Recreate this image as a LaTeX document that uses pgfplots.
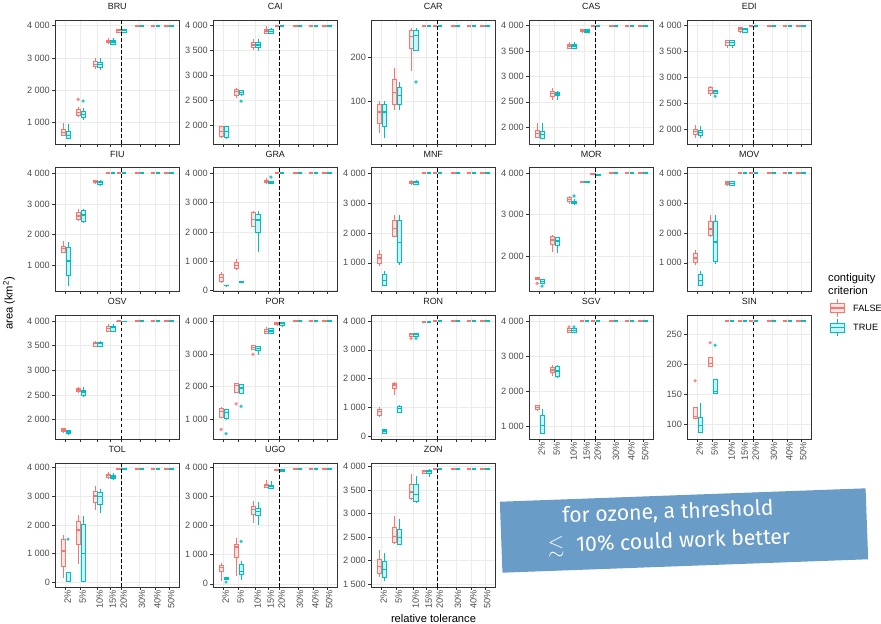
\documentclass[border=0pt]{standalone}
\usepackage{fontspec}
\setmainfont{Liberation Sans}
\newfontfamily\annofont{Fira Sans}
\usepackage{amssymb}
\usepackage{pgfplots}
\pgfplotsset{compat=1.18}

\definecolor{cF}{HTML}{F8766D}
\definecolor{cT}{HTML}{00BFC4}
\definecolor{gtick}{HTML}{4D4D4D}
\definecolor{gborder}{HTML}{333333}
\definecolor{ggrid}{HTML}{EBEBEB}
\definecolor{annoblue}{HTML}{6A9CC8}

\pgfplotsset{
  boxF/.style={color=cF, fill=cF!20, line width=0.6bp, mark=none},
  boxT/.style={color=cT, fill=cT!20, line width=0.6bp, mark=none},
  whF/.style={color=cF, line width=0.6bp, mark=none, unbounded coords=jump},
  whT/.style={color=cT, line width=0.6bp, mark=none, unbounded coords=jump},
  medF/.style={color=cF, line width=1.3bp, mark=none},
  medT/.style={color=cT, line width=1.3bp, mark=none},
  flF/.style={color=cF, line width=1.9bp, mark=none},
  flT/.style={color=cT, line width=1.9bp, mark=none},
  olF/.style={color=cF, only marks, mark=*, mark size=1.8bp, mark options={draw opacity=0, fill=cF, fill opacity=0.85}},
  olT/.style={color=cT, only marks, mark=*, mark size=1.8bp, mark options={draw opacity=0, fill=cT, fill opacity=0.85}},
  panel/.style={
    scale only axis, width=124.5bp, height=124bp, anchor=north west,
    xmin=0.834, xmax=7.651,
    xtick={1.414,2.236,3.162,3.873,4.472,5.477,6.325,7.071},
    xticklabels={2\%,5\%,10\%,15\%,20\%,30\%,40\%,50\%},
    tick pos=left, tick align=outside, major tick length=2.75bp,
    tick style={draw=gborder, line width=0.55bp},
    axis line style={draw=gborder, line width=0.8bp},
    grid=major, major grid style={draw=ggrid, line width=0.6bp},
    scaled y ticks=false,
    /pgf/number format/.cd, assume math mode=true, fixed, precision=0,
      1000 sep={\hspace{0.25em}}, /pgfplots/.cd,
    tick label style={font=\fontsize{9.2}{10}\selectfont, text=gtick},
    yticklabel style={inner sep=0pt, xshift=-2.2bp},
    xticklabel style={rotate=90, anchor=east, inner sep=0pt, yshift=-2.2bp},
    title style={font=\fontsize{9}{10}\selectfont, text=black!90,
      at={(0.5,1)}, anchor=base, yshift=4.5bp},
  },
  nox/.style={xticklabels={}},
}

% one box: group (F/T), centre, lower whisker, Q1, median, Q3, upper whisker
\newcommand{\bx}[7]{%
  \pgfmathsetmacro{\xl}{#2-0.1215}\pgfmathsetmacro{\xr}{#2+0.1215}%
  \addplot[box#1] coordinates {(\xl,#4) (\xr,#4) (\xr,#6) (\xl,#6)} --cycle;
  \addplot[wh#1] coordinates {(#2,#3) (#2,#4) (#2,nan) (#2,#6) (#2,#7)};
  \addplot[med#1] coordinates {(\xl,#5) (\xr,#5)};
}
% degenerate box: every run gives the same area
\newcommand{\fl}[3]{%
  \pgfmathsetmacro{\xl}{#2-0.1215}\pgfmathsetmacro{\xr}{#2+0.1215}%
  \addplot[fl#1] coordinates {(\xl,#3) (\xr,#3)};
}
% outlying runs
\newcommand{\ol}[2]{\addplot[ol#1] coordinates {#2};}
% 20 % tolerance reference line
\newcommand{\thr}{\draw[black, line width=0.9bp, dash pattern=on 3.6bp off 2.4bp] ({axis cs:4.472,0}|-{rel axis cs:0,0}) -- ({axis cs:4.472,0}|-{rel axis cs:0,1});}

\begin{document}
\begin{tikzpicture}
\useasboundingbox (0,0) rectangle (881bp,-624bp);

% ---------------- row 1 ----------------
\begin{axis}[panel, nox, at={(55bp,-20bp)}, title=BRU, ymin=340, ymax=4176, ytick={1000,2000,3000,4000}]
\bx{F}{1.279}{600}{620}{690}{790}{980}
\bx{T}{1.549}{515}{530}{610}{720}{960}
\bx{F}{2.101}{1190}{1240}{1320}{1410}{1480}
\bx{T}{2.371}{1080}{1180}{1260}{1340}{1440}
\ol{F}{(2.101,1720)}\ol{T}{(2.371,1670)}
\bx{F}{3.027}{2650}{2730}{2805}{2885}{3000}
\bx{T}{3.297}{2630}{2720}{2790}{2880}{3000}
\bx{F}{3.738}{3460}{3475}{3515}{3555}{3610}
\bx{T}{4.008}{3420}{3435}{3495}{3555}{3610}
\bx{F}{4.337}{3790}{3800}{3850}{3895}{3900}
\bx{T}{4.607}{3790}{3800}{3850}{3895}{3900}
\fl{F}{5.342}{4000}\fl{T}{5.612}{4000}
\fl{F}{6.190}{4000}\fl{T}{6.460}{4000}
\fl{F}{6.936}{4000}\fl{T}{7.206}{4000}
\thr
\end{axis}

\begin{axis}[panel, nox, at={(213bp,-20bp)}, title=CAI, ymin=1630, ymax=4113, ytick={2000,2500,3000,3500,4000}]
\bx{F}{1.279}{1760}{1780}{1880}{1980}{2000}
\bx{T}{1.549}{1740}{1760}{1880}{1980}{2000}
\bx{F}{2.101}{2560}{2613}{2680}{2727}{2760}
\bx{T}{2.371}{2600}{2628}{2660}{2700}{2720}
\ol{T}{(2.371,2487)}
\bx{F}{3.027}{3513}{3567}{3614}{3660}{3727}
\bx{T}{3.297}{3500}{3567}{3614}{3660}{3727}
\bx{F}{3.738}{3840}{3848}{3893}{3934}{3990}
\bx{T}{4.008}{3830}{3848}{3880}{3934}{3960}
\fl{F}{4.337}{4000}\fl{T}{4.607}{4000}
\fl{F}{5.342}{4000}\fl{T}{5.612}{4000}
\fl{F}{6.190}{4000}\fl{T}{6.460}{4000}
\fl{F}{6.936}{4000}\fl{T}{7.206}{4000}
\thr
\end{axis}

\begin{axis}[panel, nox, at={(371bp,-20bp)}, title=CAR, ymin=4, ymax=284, ytick={100,200}]
\bx{F}{1.279}{29}{51}{76}{94}{100}
\bx{T}{1.549}{17}{45}{76}{94}{100}
\bx{F}{2.101}{80}{94}{120}{149}{176}
\bx{T}{2.371}{81}{94}{114}{132}{143}
\bx{F}{3.027}{168}{220}{246}{260}{265}
\bx{T}{3.297}{214}{216}{249}{260}{265}
\ol{T}{(3.297,144)}
\fl{F}{3.738}{271}\fl{T}{4.008}{271}
\fl{F}{4.337}{271}\fl{T}{4.607}{271}
\fl{F}{5.342}{271}\fl{T}{5.612}{271}
\fl{F}{6.190}{271}\fl{T}{6.460}{271}
\fl{F}{6.936}{271}\fl{T}{7.206}{271}
\thr
\end{axis}

\begin{axis}[panel, nox, at={(529bp,-20bp)}, title=CAS, ymin=1669, ymax=4111, ytick={2000,2500,3000,3500,4000}]
\bx{F}{1.279}{1790}{1800}{1870}{1935}{2080}
\bx{T}{1.549}{1780}{1790}{1850}{1920}{2080}
\bx{F}{2.101}{2543}{2614}{2661}{2713}{2780}
\bx{T}{2.371}{2543}{2620}{2655}{2690}{2720}
\bx{F}{3.027}{3540}{3552}{3600}{3638}{3670}
\bx{T}{3.297}{3540}{3552}{3600}{3638}{3670}
\bx{F}{3.738}{3870}{3880}{3905}{3929}{3940}
\bx{T}{4.008}{3860}{3870}{3895}{3920}{3930}
\fl{F}{4.337}{4000}\fl{T}{4.607}{4000}
\fl{F}{5.342}{4000}\fl{T}{5.612}{4000}
\fl{F}{6.190}{4000}\fl{T}{6.460}{4000}
\fl{F}{6.936}{4000}\fl{T}{7.206}{4000}
\thr
\end{axis}

\begin{axis}[panel, nox, at={(687bp,-20bp)}, title=EDI, ymin=1711, ymax=4109, ytick={2000,2500,3000,3500,4000}]
\bx{F}{1.279}{1820}{1893}{1950}{1990}{2080}
\bx{T}{1.549}{1820}{1880}{1930}{1970}{2060}
\bx{F}{2.101}{2640}{2700}{2745}{2805}{2830}
\bx{T}{2.371}{2690}{2700}{2730}{2750}{2760}
\ol{T}{(2.371,2636)}
\bx{F}{3.027}{3560}{3625}{3670}{3710}{3710}
\bx{T}{3.297}{3560}{3625}{3670}{3710}{3710}
\bx{F}{3.738}{3880}{3884}{3935}{3961}{3975}
\bx{T}{4.008}{3860}{3880}{3920}{3940}{3950}
\fl{F}{4.337}{4000}\fl{T}{4.607}{4000}
\fl{F}{5.342}{4000}\fl{T}{5.612}{4000}
\fl{F}{6.190}{4000}\fl{T}{6.460}{4000}
\fl{F}{6.936}{4000}\fl{T}{7.206}{4000}
\thr
\end{axis}

% ---------------- row 2 ----------------
\begin{axis}[panel, nox, at={(55bp,-167.7bp)}, title=FIU, ymin=142, ymax=4184, ytick={1000,2000,3000,4000}]
\bx{F}{1.279}{1400}{1434}{1545}{1630}{1800}
\bx{T}{1.549}{326}{675}{1140}{1578}{1760}
\bx{F}{2.101}{2450}{2500}{2608}{2719}{2840}
\bx{T}{2.371}{2380}{2450}{2640}{2780}{2840}
\bx{F}{3.027}{3690}{3697}{3730}{3761}{3770}
\bx{T}{3.297}{3590}{3650}{3720}{3750}{3780}
\fl{F}{3.738}{4000}\fl{T}{4.008}{4000}
\fl{F}{4.337}{4000}\fl{T}{4.607}{4000}
\fl{F}{5.342}{4000}\fl{T}{5.612}{4000}
\fl{F}{6.190}{4000}\fl{T}{6.460}{4000}
\fl{F}{6.936}{4000}\fl{T}{7.206}{4000}
\thr
\end{axis}

\begin{axis}[panel, nox, at={(213bp,-167.7bp)}, title=GRA, ymin=-32, ymax=4192, ytick={0,1000,2000,3000,4000}]
\bx{F}{1.279}{276}{331}{446}{558}{636}
\bx{T}{1.549}{160}{170}{185}{200}{210}
\bx{F}{2.101}{704}{752}{864}{976}{1092}
\bx{T}{2.371}{280}{290}{300}{310}{320}
\bx{F}{3.027}{2210}{2210}{2438}{2685}{2720}
\bx{T}{3.297}{1316}{2000}{2415}{2600}{2717}
\bx{F}{3.738}{3660}{3683}{3728}{3773}{3850}
\bx{T}{4.008}{3660}{3660}{3700}{3740}{3740}
\ol{T}{(4.008,3874)}
\fl{F}{4.337}{4000}\fl{T}{4.607}{4000}
\fl{F}{5.342}{4000}\fl{T}{5.612}{4000}
\fl{F}{6.190}{4000}\fl{T}{6.460}{4000}
\fl{F}{6.936}{4000}\fl{T}{7.206}{4000}
\thr
\end{axis}

\begin{axis}[panel, nox, at={(371bp,-167.7bp)}, title=MNF, ymin=30, ymax=4190, ytick={1000,2000,3000,4000}]
\bx{F}{1.279}{908}{990}{1156}{1282}{1418}
\bx{T}{1.549}{230}{240}{398}{602}{714}
\bx{F}{2.101}{1850}{1894}{2156}{2414}{2608}
\bx{T}{2.371}{942}{1020}{1680}{2414}{2608}
\bx{F}{3.027}{3620}{3653}{3700}{3741}{3770}
\bx{T}{3.297}{3600}{3640}{3700}{3741}{3780}
\fl{F}{3.738}{4000}\fl{T}{4.008}{4000}
\fl{F}{4.337}{4000}\fl{T}{4.607}{4000}
\fl{F}{5.342}{4000}\fl{T}{5.612}{4000}
\fl{F}{6.190}{4000}\fl{T}{6.460}{4000}
\fl{F}{6.936}{4000}\fl{T}{7.206}{4000}
\thr
\end{axis}

\begin{axis}[panel, nox, at={(529bp,-167.7bp)}, title=MOR, ymin=1138, ymax=4136, ytick={2000,3000,4000}]
\bx{F}{1.279}{1428}{1428}{1460}{1484}{1484}
\bx{T}{1.549}{1346}{1346}{1387}{1428}{1428}
\ol{F}{(1.279,1339)}\ol{T}{(1.549,1274)}
\bx{F}{2.101}{2110}{2282}{2387}{2469}{2500}
\bx{T}{2.371}{2085}{2266}{2363}{2444}{2470}
\bx{F}{3.027}{3250}{3330}{3370}{3412}{3450}
\bx{T}{3.297}{3250}{3270}{3306}{3330}{3380}
\ol{T}{(3.297,3451)}
\bx{F}{3.738}{3780}{3780}{3798}{3810}{3810}
\bx{T}{4.008}{3780}{3780}{3790}{3800}{3800}
\bx{F}{4.337}{3975}{3980}{3990}{4000}{4000}
\bx{T}{4.607}{3955}{3960}{3975}{3985}{3990}
\fl{F}{5.342}{4000}\fl{T}{5.612}{4000}
\fl{F}{6.190}{4000}\fl{T}{6.460}{4000}
\fl{F}{6.936}{4000}\fl{T}{7.206}{4000}
\thr
\end{axis}

\begin{axis}[panel, nox, at={(687bp,-167.7bp)}, title=MOV, ymin=30, ymax=4190, ytick={1000,2000,3000,4000}]
\bx{F}{1.279}{930}{1010}{1160}{1330}{1430}
\bx{T}{1.549}{230}{250}{400}{600}{720}
\bx{F}{2.101}{1880}{1920}{2130}{2400}{2600}
\bx{T}{2.371}{950}{1040}{1700}{2400}{2600}
\bx{F}{3.027}{3600}{3620}{3680}{3740}{3760}
\bx{T}{3.297}{3570}{3600}{3660}{3720}{3760}
\fl{F}{3.738}{4000}\fl{T}{4.008}{4000}
\fl{F}{4.337}{4000}\fl{T}{4.607}{4000}
\fl{F}{5.342}{4000}\fl{T}{5.612}{4000}
\fl{F}{6.190}{4000}\fl{T}{6.460}{4000}
\fl{F}{6.936}{4000}\fl{T}{7.206}{4000}
\thr
\end{axis}

% ---------------- row 3 ----------------
\begin{axis}[panel, nox, at={(55bp,-315.3bp)}, title=OSV, ymin=1599, ymax=4114, ytick={2000,2500,3000,3500,4000}]
\bx{F}{1.279}{1750}{1754}{1785}{1814}{1820}
\bx{T}{1.549}{1710}{1713}{1750}{1786}{1790}
\bx{F}{2.101}{2560}{2566}{2600}{2635}{2650}
\bx{T}{2.371}{2450}{2500}{2560}{2586}{2670}
\bx{F}{3.027}{3480}{3489}{3540}{3576}{3600}
\bx{T}{3.297}{3480}{3489}{3540}{3576}{3600}
\bx{F}{3.738}{3790}{3798}{3850}{3893}{3930}
\bx{T}{4.008}{3790}{3798}{3860}{3893}{3930}
\bx{F}{4.337}{3990}{3990}{4000}{4000}{4000}
\bx{T}{4.607}{3985}{3985}{3995}{4000}{4000}
\fl{F}{5.342}{4000}\fl{T}{5.612}{4000}
\fl{F}{6.190}{4000}\fl{T}{6.460}{4000}
\fl{F}{6.936}{4000}\fl{T}{7.206}{4000}
\thr
\end{axis}

\begin{axis}[panel, nox, at={(213bp,-315.3bp)}, title=POR, ymin=394, ymax=4182, ytick={1000,2000,3000,4000}]
\bx{F}{1.279}{1060}{1081}{1251}{1354}{1380}
\bx{T}{1.549}{1000}{1021}{1203}{1303}{1320}
\ol{F}{(1.279,697)}\ol{T}{(1.549,567)}
\bx{F}{2.101}{1800}{1827}{2030}{2091}{2100}
\bx{T}{2.371}{1780}{1809}{1960}{2060}{2080}
\ol{F}{(2.101,1476)}\ol{T}{(2.371,1403)}
\bx{F}{3.027}{3120}{3142}{3200}{3252}{3270}
\bx{T}{3.297}{2970}{3100}{3170}{3222}{3240}
\ol{F}{(3.027,2990)}
\bx{F}{3.738}{3600}{3628}{3697}{3758}{3818}
\bx{T}{4.008}{3600}{3628}{3700}{3788}{3800}
\bx{F}{4.337}{3880}{3900}{3930}{3960}{3980}
\bx{T}{4.607}{3850}{3870}{3940}{3960}{3970}
\fl{F}{5.342}{4000}\fl{T}{5.612}{4000}
\fl{F}{6.190}{4000}\fl{T}{6.460}{4000}
\fl{F}{6.936}{4000}\fl{T}{7.206}{4000}
\thr
\end{axis}

\begin{axis}[panel, nox, at={(371bp,-315.3bp)}, title=RON, ymin=-110, ymax=4200, ytick={0,1000,2000,3000,4000}]
\bx{F}{1.279}{649}{730}{846}{927}{1020}
\bx{T}{1.549}{80}{93}{174}{232}{250}
\bx{F}{2.101}{1426}{1657}{1773}{1854}{1889}
\bx{T}{2.371}{788}{846}{962}{1020}{1078}
\bx{F}{3.027}{3440}{3477}{3535}{3570}{3590}
\bx{T}{3.297}{3440}{3477}{3535}{3570}{3590}
\ol{F}{(3.027,3396)}\ol{T}{(3.297,3396)}
\fl{F}{3.738}{3965}\fl{T}{4.008}{3965}
\fl{F}{4.337}{4000}\fl{T}{4.607}{4000}
\fl{F}{5.342}{4000}\fl{T}{5.612}{4000}
\fl{F}{6.190}{4000}\fl{T}{6.460}{4000}
\fl{F}{6.936}{4000}\fl{T}{7.206}{4000}
\thr
\end{axis}

\begin{axis}[panel, at={(529bp,-315.3bp)}, title=SGV, ymin=622, ymax=4169, ytick={1000,2000,3000,4000}]
\bx{F}{1.279}{1460}{1473}{1539}{1587}{1600}
\bx{T}{1.549}{792}{792}{1019}{1303}{1492}
\bx{F}{2.101}{2438}{2532}{2608}{2674}{2750}
\bx{T}{2.371}{2372}{2438}{2580}{2703}{2750}
\bx{F}{3.027}{3680}{3696}{3743}{3790}{3800}
\bx{T}{3.297}{3680}{3696}{3743}{3790}{3800}
\ol{F}{(3.027,3838)}\ol{T}{(3.297,3838)}
\fl{F}{3.738}{4000}\fl{T}{4.008}{4000}
\fl{F}{4.337}{4000}\fl{T}{4.607}{4000}
\fl{F}{5.342}{4000}\fl{T}{5.612}{4000}
\fl{F}{6.190}{4000}\fl{T}{6.460}{4000}
\fl{F}{6.936}{4000}\fl{T}{7.206}{4000}
\thr
\end{axis}

\begin{axis}[panel, at={(687bp,-315.3bp)}, title=SIN, ymin=74.5, ymax=282, ytick={100,150,200,250}]
\bx{F}{1.279}{110}{110}{113}{128}{128}
\bx{T}{1.549}{85.6}{87}{98}{112}{135}
\ol{F}{(1.279,172.5)}
\bx{F}{2.101}{197}{197}{201}{212}{212}
\bx{T}{2.371}{152}{152}{155}{175}{175}
\ol{F}{(2.101,236)}\ol{T}{(2.371,232)}
\fl{F}{3.027}{272}\fl{T}{3.297}{272}
\fl{F}{3.738}{272}\fl{T}{4.008}{272}
\fl{F}{4.337}{272}\fl{T}{4.607}{272}
\fl{F}{5.342}{272}\fl{T}{5.612}{272}
\fl{F}{6.190}{272}\fl{T}{6.460}{272}
\fl{F}{6.936}{272}\fl{T}{7.206}{272}
\thr
\end{axis}

% ---------------- row 4 ----------------
\begin{axis}[panel, at={(55bp,-463bp)}, title=TOL, ymin=-152, ymax=4145, ytick={0,1000,2000,3000,4000}]
\bx{F}{1.279}{160}{567}{1100}{1507}{1646}
\bx{T}{1.549}{45}{45}{50}{370}{370}
\ol{T}{(1.549,1507)}
\bx{F}{2.101}{661}{1333}{1820}{2133}{2342}
\bx{T}{2.371}{45}{45}{1009}{2029}{2300}
\bx{F}{3.027}{2500}{2770}{3003}{3177}{3339}
\bx{T}{3.297}{2420}{2730}{2980}{3130}{3240}
\bx{F}{3.738}{3600}{3654}{3700}{3758}{3830}
\bx{T}{4.008}{3560}{3600}{3660}{3720}{3800}
\bx{F}{4.337}{3930}{3935}{3945}{3950}{3950}
\bx{T}{4.607}{3930}{3935}{3945}{3950}{3950}
\fl{F}{5.342}{3945}\fl{T}{5.612}{3945}
\fl{F}{6.190}{3945}\fl{T}{6.460}{3945}
\fl{F}{6.936}{3945}\fl{T}{7.206}{3945}
\thr
\end{axis}

\begin{axis}[panel, at={(213bp,-463bp)}, title=UGO, ymin=-110, ymax=4150, ytick={0,1000,2000,3000,4000}]
\bx{F}{1.279}{103}{423}{561}{630}{712}
\bx{T}{1.549}{172}{172}{200}{230}{230}
\ol{T}{(1.549,58)}
\bx{F}{2.101}{252}{918}{1262}{1365}{1572}
\bx{T}{2.371}{138}{333}{424}{677}{770}
\ol{T}{(2.371,1455)}
\bx{F}{3.027}{2088}{2398}{2546}{2659}{2855}
\bx{T}{3.297}{2030}{2350}{2490}{2602}{2820}
\bx{F}{3.738}{3280}{3314}{3372}{3430}{3560}
\bx{T}{4.008}{3250}{3290}{3360}{3400}{3530}
\bx{F}{4.337}{3890}{3898}{3910}{3930}{3946}
\bx{T}{4.607}{3852}{3860}{3900}{3930}{3946}
\fl{F}{5.342}{3950}\fl{T}{5.612}{3950}
\fl{F}{6.190}{3950}\fl{T}{6.460}{3950}
\fl{F}{6.936}{3950}\fl{T}{7.206}{3950}
\thr
\end{axis}

\begin{axis}[panel, at={(371bp,-463bp)}, title=ZON, ymin=1439, ymax=4078, ytick={1500,2000,2500,3000,3500,4000}]
\bx{F}{1.279}{1650}{1721}{1875}{2038}{2230}
\bx{T}{1.549}{1559}{1652}{1806}{1981}{2160}
\bx{F}{2.101}{2380}{2382}{2508}{2719}{2945}
\bx{T}{2.371}{2340}{2348}{2494}{2671}{2890}
\bx{F}{3.027}{3300}{3331}{3458}{3635}{3845}
\bx{T}{3.297}{3240}{3255}{3403}{3615}{3810}
\bx{F}{3.738}{3859}{3859}{3900}{3930}{3930}
\bx{T}{4.008}{3790}{3859}{3900}{3930}{3945}
\fl{F}{4.337}{3955}\fl{T}{4.607}{3955}
\fl{F}{5.342}{3955}\fl{T}{5.612}{3955}
\fl{F}{6.190}{3955}\fl{T}{6.460}{3955}
\fl{F}{6.936}{3955}\fl{T}{7.206}{3955}
\thr
\end{axis}

% ---------------- axis titles ----------------
\node[rotate=90, anchor=base, font=\fontsize{11.2}{12}\selectfont] at (12.5bp,-303.5bp) {area (km\textsuperscript{2})};
\node[anchor=base, font=\fontsize{11.2}{12}\selectfont] at (433.5bp,-622bp) {relative tolerance};

% ---------------- legend ----------------
\node[anchor=base west, inner sep=0pt, font=\fontsize{11.2}{12}\selectfont] at (828bp,-281.5bp) {contiguity};
\node[anchor=base west, inner sep=0pt, font=\fontsize{11.2}{12}\selectfont] at (828bp,-294.5bp) {criterion};
\foreach \c/\yc/\lab in {cF/308/FALSE, cT/327.5/TRUE}{
  \draw[\c, line width=0.6bp] (837bp,-\yc bp+8.6bp) -- (837bp,-\yc bp-8.6bp);
  \filldraw[draw=\c, fill=\c!20, line width=0.6bp] (830bp,-\yc bp-4.3bp) rectangle (844bp,-\yc bp+4.3bp);
  \draw[\c, line width=1.3bp] (830bp,-\yc bp) -- (844bp,-\yc bp);
  \node[anchor=west, inner sep=0pt, font=\fontsize{9.2}{10}\selectfont] at (853bp,-\yc bp) {\lab};
}

% ---------------- annotation ----------------
\node[rotate=2.1, fill=annoblue, minimum width=366bp, minimum height=71bp, inner sep=0pt] at (684bp,-530.5bp) {};
\node[rotate=2.1, text=white, align=center, inner sep=0pt, font=\annofont\fontsize{21.3}{29.5}\selectfont] at (668.5bp,-528bp) {for ozone, a threshold\\\ensuremath{\lesssim}\hspace{0.55em}10\% could work better};
\end{tikzpicture}
\end{document}
